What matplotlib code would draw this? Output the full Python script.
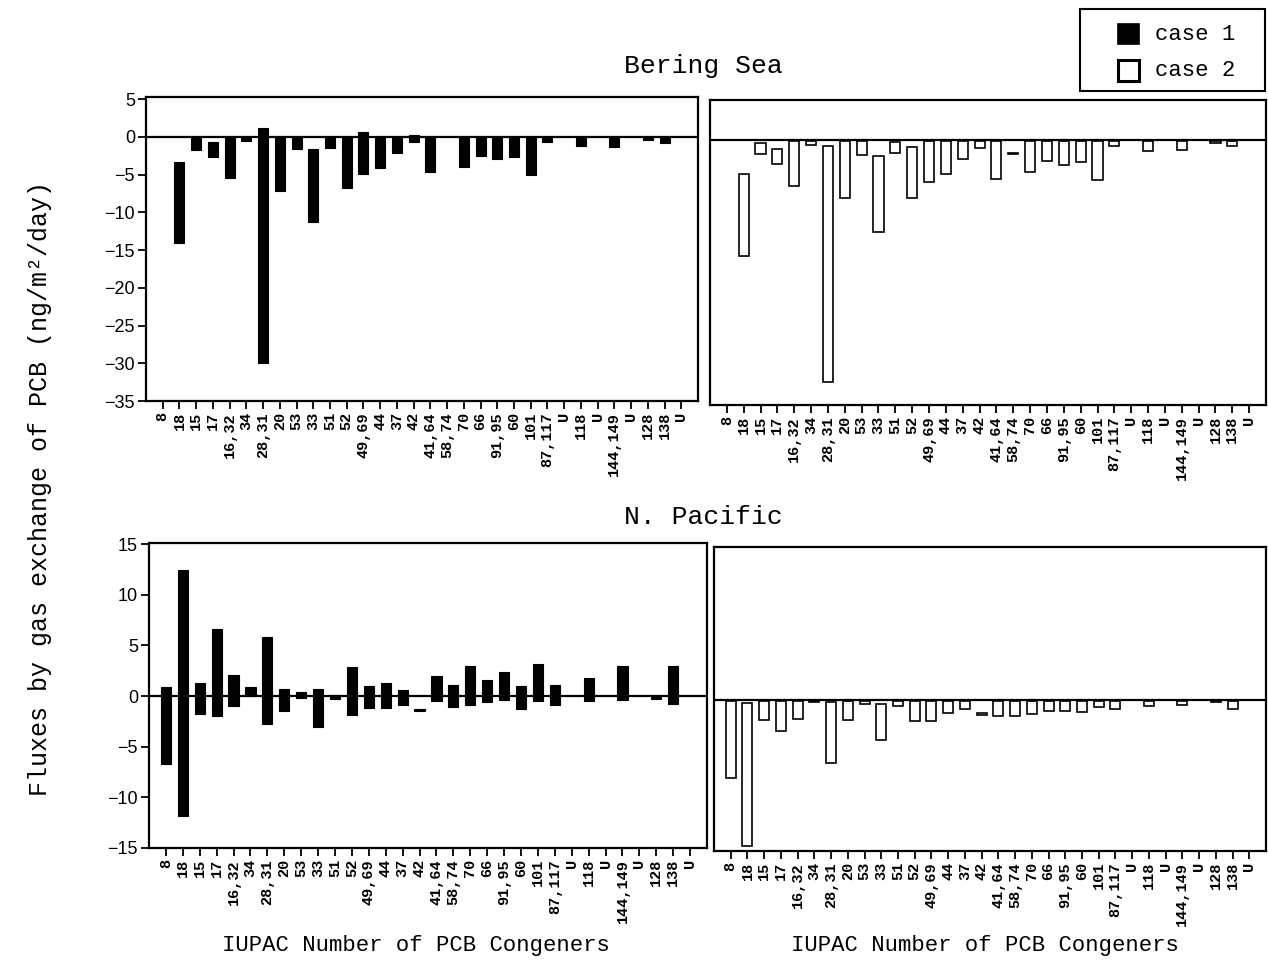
import numpy as np
import matplotlib
matplotlib.use("Agg")
import matplotlib.pyplot as plt
from matplotlib.patches import Rectangle

categories = ["8", "18", "15", "17", "16,32", "34", "28,31", "20", "53", "33", "51", "52",
              "49,69", "44", "37", "42", "41,64", "58,74", "70", "66", "91,95", "60", "101",
              "87,117", "U", "118", "U", "144,149", "U", "128", "138", "U"]
nan = np.nan

# Bering Sea, case 1 (upper, lower end of each floating bar)
bering_c1_hi = [nan, -3.3, 0, -0.7, 0, 0, 1.25, 0, 0, -1.55, 0, 0, 0.6, 0, 0, 0.3, 0, nan,
                0, 0, 0, 0, 0, 0, nan, 0, nan, -0.1, nan, -0.05, -0.2, nan]
bering_c1_lo = [nan, -14.0, -1.7, -2.65, -5.4, -0.5, -30.0, -7.2, -1.6, -11.3, -1.45, -6.75,
                -4.95, -4.1, -2.1, -0.7, -4.7, nan, -3.95, -2.5, -2.9, -2.65, -5.0, -0.6,
                nan, -1.15, nan, -1.3, nan, -0.4, -0.85, nan]
# Bering Sea, case 2
bering_c2_hi = [nan, -4.5, -0.35, -1.15, -0.1, -0.1, -0.8, -0.1, -0.1, -2.1, -0.2, -0.9, -0.1,
                -0.1, -0.1, -0.1, -0.1, -1.7, -0.1, -0.1, -0.1, -0.1, -0.1, -0.1, nan, -0.1,
                nan, -0.1, nan, -0.1, -0.1, nan]
bering_c2_lo = [nan, -15.3, -1.8, -3.15, -6.0, -0.7, -32.0, -7.6, -2.0, -12.1, -1.75, -7.6,
                -5.6, -4.5, -2.55, -1.1, -5.1, -1.85, -4.2, -2.7, -3.3, -2.9, -5.3, -0.8, nan,
                -1.4, nan, -1.3, nan, -0.4, -0.8, nan]
# N. Pacific, case 1
pacific_c1_hi = [0.93, 12.4, 1.3, 6.65, 2.1, 0.85, 5.8, 0.7, 0.35, 0.7, 0.1, 2.9, 1.0, 1.25,
                 0.6, -1.25, 2.0, 1.1, 3.0, 1.55, 2.4, 1.0, 3.2, 1.1, nan, 1.8, nan, 3.0, nan,
                 -0.05, 3.0, nan]
pacific_c1_lo = [-6.7, -11.8, -1.75, -2.0, -0.95, 0.0, -2.75, -1.45, -0.2, -3.1, -0.3, -1.9,
                 -1.15, -1.15, -0.85, -1.45, -0.5, -1.1, -0.85, -0.6, -0.35, -1.25, -0.45,
                 -0.9, nan, -0.45, nan, -0.35, nan, -0.25, -0.8, nan]
# N. Pacific, case 2
pacific_c2_hi = [-0.1, -0.3, -0.1, -0.1, -0.1, -0.1, -0.25, -0.1, -0.1, -0.45, -0.1, -0.1,
                 -0.1, -0.1, -0.1, -1.35, -0.1, -0.1, -0.1, -0.1, -0.1, -0.1, -0.1, -0.1, nan,
                 -0.1, nan, -0.1, nan, -0.1, -0.1, nan]
pacific_c2_lo = [-7.8, -14.5, -2.05, -3.1, -1.95, -0.25, -6.3, -2.05, -0.45, -4.0, -0.6, -2.1,
                 -2.1, -1.35, -0.9, -1.5, -1.6, -1.6, -1.4, -1.1, -1.1, -1.2, -0.75, -0.9, nan,
                 -0.6, nan, -0.5, nan, -0.25, -0.95, nan]

top_yticks = [5, 0, -5, -10, -15, -20, -25, -30, -35]
bottom_yticks = [15, 10, 5, 0, -5, -10, -15]
legend_labels = ["case 1", "case 2"]

MONO = "Liberation Mono"
SANS = "Liberation Sans"

W, H = 1268, 960
fig = plt.figure(figsize=(W / 100, H / 100), dpi=100)


def box(l, t, r, b):
    return [l / W, 1 - b / H, (r - l) / W, (b - t) / H]


axes_specs = [
    (box(146, 97, 698, 401), bering_c1_hi, bering_c1_lo, True, (-35, 5.3), top_yticks),
    (box(710, 100, 1266, 405), bering_c2_hi, bering_c2_lo, False, (-35, 5.3), top_yticks),
    (box(149, 543, 707, 848), pacific_c1_hi, pacific_c1_lo, True, (-15, 15.1), bottom_yticks),
    (box(714, 547, 1266, 851), pacific_c2_hi, pacific_c2_lo, False, (-15, 15.1), bottom_yticks),
]

x = np.arange(len(categories))
for i, (rect, hi, lo, filled, ylim, yt) in enumerate(axes_specs):
    ax = fig.add_axes(rect)
    hi = np.array(hi, dtype=float)
    lo = np.array(lo, dtype=float)
    m = ~np.isnan(hi)
    if filled:
        ax.bar(x[m], hi[m] - lo[m], bottom=lo[m], width=0.6, color="black",
               edgecolor="black", linewidth=0.8, zorder=3)
    else:
        ax.bar(x[m], hi[m] - lo[m], bottom=lo[m], width=0.6, facecolor="white",
               edgecolor="black", linewidth=1.2, zorder=3)
    ax.axhline(0, color="black", lw=1.6, zorder=4)
    ax.set_xlim(-1, 32)
    ax.set_ylim(*ylim)
    ax.set_xticks(x)
    ax.set_xticklabels(categories, rotation=90, fontfamily=MONO, fontweight="bold",
                       fontsize=11)
    ax.tick_params(axis="x", direction="out", length=6, width=1.3, pad=2)
    if i % 2 == 0:
        ax.set_yticks(yt)
        ax.set_yticklabels([f"{v}".replace("-", "\u2212") for v in yt],
                           fontfamily=SANS, fontsize=13)
        ax.tick_params(axis="y", direction="out", length=6, width=1.3, pad=2)
    else:
        ax.set_yticks([])
    for s in ax.spines.values():
        s.set_linewidth(1.6)

fig.text(703 / W, 1 - 66 / H, "Bering Sea", fontfamily=MONO, fontsize=19,
         ha="center", va="center")
fig.text(703 / W, 1 - 517 / H, "N. Pacific", fontfamily=MONO, fontsize=19,
         ha="center", va="center")
fig.text(40 / W, 1 - 488 / H, "Fluxes by gas exchange of PCB (ng/m\u00b2/day)",
         fontfamily=MONO, fontsize=18, rotation=90, ha="center", va="center")
fig.text(416 / W, 1 - 945 / H, "IUPAC Number of PCB Congeners", fontfamily=MONO,
         fontsize=16, ha="center", va="center")
fig.text(985 / W, 1 - 945 / H, "IUPAC Number of PCB Congeners", fontfamily=MONO,
         fontsize=16, ha="center", va="center")


def frect(l, t, r, b, **kw):
    return Rectangle((l / W, 1 - b / H), (r - l) / W, (b - t) / H,
                     transform=fig.transFigure, **kw)


# legend box drawn in figure pixels
fig.add_artist(frect(1080, 9, 1265, 91, facecolor="white", edgecolor="black", lw=1.5))
fig.add_artist(frect(1118, 24, 1139, 44, facecolor="black", edgecolor="black", lw=1.2))
fig.add_artist(frect(1118, 60, 1139, 81, facecolor="white", edgecolor="black", lw=2.2))
fig.text(1155 / W, 1 - 34 / H, legend_labels[0], fontfamily=MONO, fontsize=16,
         ha="left", va="center")
fig.text(1155 / W, 1 - 71 / H, legend_labels[1], fontfamily=MONO, fontsize=16,
         ha="left", va="center")

fig.savefig("out.png", dpi=100)
